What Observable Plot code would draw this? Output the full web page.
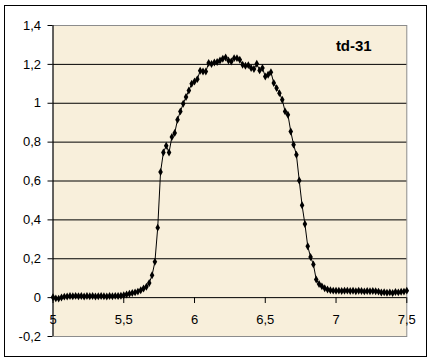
<!DOCTYPE html>
<html>
<head>
<meta charset="utf-8">
<script src="https://cdn.jsdelivr.net/npm/d3@7"></script>
<script src="https://cdn.jsdelivr.net/npm/@observablehq/plot@0.6"></script>
<style>
  html, body { margin: 0; padding: 0; background: #fff; }
  #wrap { position: relative; width: 433px; height: 363px; overflow: hidden; }
  #wrap svg { position: absolute; left: 0; top: 0; }
  #border { position: absolute; left: 4px; top: 5px; width: 423px; height: 352px; box-sizing: border-box; border: 1px solid #000; pointer-events: none; }
</style>
</head>
<body>
<div id="wrap"><div id="border"></div></div>
<script>
const title = "td-31";

const xValues = [
  5.00, 5.02, 5.04, 5.06, 5.08, 5.10, 5.12, 5.14, 5.16, 5.18,
  5.20, 5.22, 5.24, 5.26, 5.28, 5.30, 5.32, 5.34, 5.36, 5.38,
  5.40, 5.42, 5.44, 5.46, 5.48, 5.50, 5.52, 5.54, 5.56, 5.58,
  5.60, 5.62, 5.64, 5.66, 5.68, 5.70, 5.72, 5.74, 5.76, 5.78,
  5.80, 5.82, 5.84, 5.86, 5.88, 5.90, 5.92, 5.94, 5.96, 5.98,
  6.00, 6.02, 6.04, 6.06, 6.08, 6.10, 6.12, 6.14, 6.16, 6.18,
  6.20, 6.22, 6.24, 6.26, 6.28, 6.30, 6.32, 6.34, 6.36, 6.38,
  6.40, 6.42, 6.44, 6.46, 6.48, 6.50, 6.52, 6.54, 6.56, 6.58,
  6.60, 6.62, 6.64, 6.66, 6.68, 6.70, 6.72, 6.74, 6.76, 6.78,
  6.80, 6.82, 6.84, 6.86, 6.88, 6.90, 6.92, 6.94, 6.96, 6.98,
  7.00, 7.02, 7.04, 7.06, 7.08, 7.10, 7.12, 7.14, 7.16, 7.18,
  7.20, 7.22, 7.24, 7.26, 7.28, 7.30, 7.32, 7.34, 7.36, 7.38,
  7.40, 7.42, 7.44, 7.46, 7.48, 7.50
];

const yValues = [
  0.002, -0.004, -0.005, 0.001, 0.005, 0.006, 0.008, 0.007, 0.009, 0.007,
  0.008, 0.006, 0.008, 0.007, 0.008, 0.006, 0.007, 0.008, 0.007, 0.006,
  0.008, 0.007, 0.009, 0.008, 0.010, 0.012, 0.016, 0.020, 0.024, 0.027,
  0.031, 0.038, 0.047, 0.056, 0.075, 0.115, 0.184, 0.360, 0.646, 0.747,
  0.781, 0.747, 0.826, 0.847, 0.915, 0.958, 0.997, 1.032, 1.066, 1.100,
  1.112, 1.124, 1.167, 1.163, 1.163, 1.207, 1.202, 1.210, 1.212, 1.220,
  1.229, 1.235, 1.220, 1.215, 1.232, 1.232, 1.224, 1.198, 1.193, 1.196,
  1.181, 1.176, 1.203, 1.169, 1.181, 1.138, 1.147, 1.160, 1.104, 1.078,
  1.052, 1.018, 0.958, 0.941, 0.855, 0.787, 0.735, 0.603, 0.475, 0.379,
  0.264, 0.209, 0.171, 0.093, 0.070, 0.058, 0.048, 0.042, 0.038, 0.036,
  0.035, 0.036, 0.034, 0.035, 0.036, 0.034, 0.035, 0.033, 0.035, 0.034,
  0.032, 0.034, 0.033, 0.034, 0.033, 0.031, 0.026, 0.028, 0.025, 0.027,
  0.024, 0.029, 0.027, 0.030, 0.031, 0.036
];

const yTicks = [-0.2, 0, 0.2, 0.4, 0.6, 0.8, 1, 1.2, 1.4];
const yTickLabels = ["-0,2", "0", "0,2", "0,4", "0,6", "0,8", "1", "1,2", "1,4"];
const gridValues = [0.2, 0.4, 0.6, 0.8, 1, 1.2];
const xTicks = [5, 5.5, 6, 6.5, 7, 7.5];
const xTickLabels = ["5", "5,5", "6", "6,5", "7", "7,5"];

const data = xValues.map((x, i) => ({x, y: yValues[i]}));
const yLabelOf = new Map(yTicks.map((v, i) => [v, yTickLabels[i]]));

const tickShape = {
  draw(context, l) {
    context.moveTo(0, 0);
    context.lineTo(0, -l);
  }
};

const chart = Plot.plot({
  width: 433,
  height: 363,
  marginLeft: 52.5,
  marginRight: 26.7,
  marginTop: 25,
  marginBottom: 27,
  style: {fontFamily: "'Liberation Sans', Arial, sans-serif", fontSize: "13px", background: "transparent", color: "#000"},
  x: {domain: [5, 7.5], axis: null},
  y: {domain: [-0.2, 1.4], axis: null},
  marks: [
    Plot.frame({fill: "#f8efdb", stroke: "#8c8c8c"}),
    Plot.ruleY(gridValues, {stroke: "#000", strokeWidth: 1}),
    Plot.ruleY([0], {stroke: "#000", strokeWidth: 1}),
    Plot.ruleX([5], {stroke: "#000", strokeWidth: 1}),
    Plot.axisY({ticks: yTicks, tickFormat: d => yLabelOf.get(d), tickSize: 5, tickPadding: 7, label: null, fontSize: 13}),
    Plot.vector(xTicks, {x: d => d, y: () => 0, length: 5, rotate: 180, anchor: "start", shape: tickShape, stroke: "#000", strokeWidth: 1}),
    Plot.text(xTicks, {x: d => d, y: () => 0, text: (d, i) => xTickLabels[i], dy: 22, fontSize: 13, fill: "#000"}),
    Plot.line(data, {x: "x", y: "y", stroke: "#000", strokeWidth: 1}),
    Plot.dot(data, {x: "x", y: "y", symbol: "diamond", r: 2.4, fill: "#000", stroke: "none"}),
    Plot.text([title], {frameAnchor: "top-right", dx: -53, dy: 20.5, text: d => d, fontWeight: "bold", fontSize: 15, textAnchor: "middle", lineAnchor: "middle", fill: "#000"})
  ]
});

document.getElementById("wrap").prepend(chart);
</script>
</body>
</html>
